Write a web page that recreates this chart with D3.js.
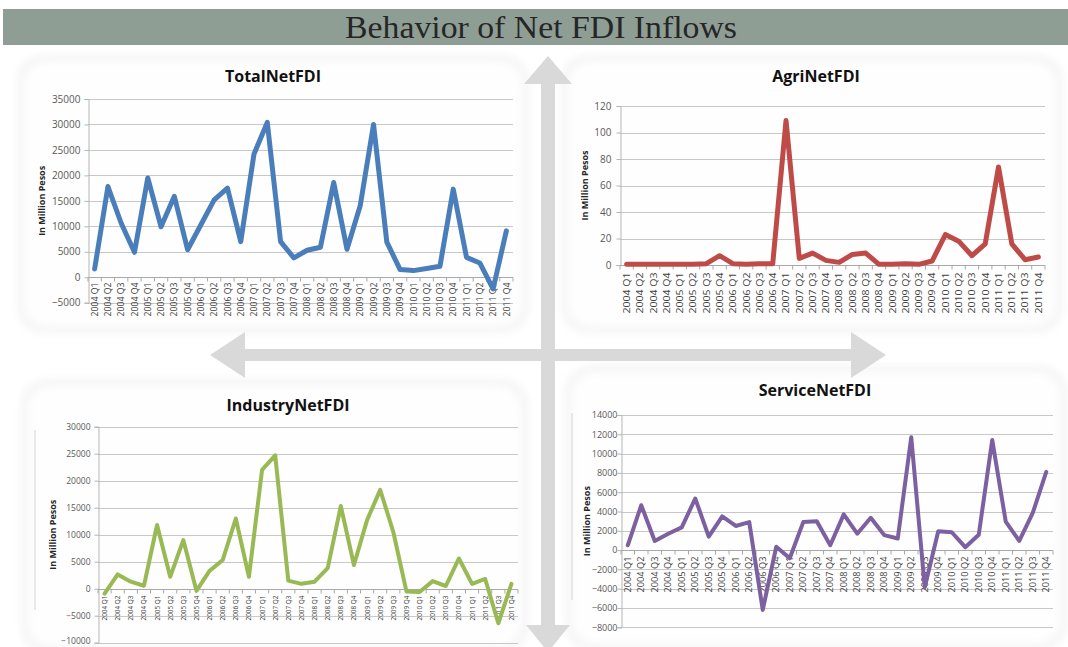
<!DOCTYPE html>
<html>
<head>
<meta charset="utf-8">
<script src="https://cdn.jsdelivr.net/npm/d3@7"></script>
<style>
  html, body { margin: 0; padding: 0; background: #ffffff; }
  svg { display: block; }
</style>
</head>
<body>
<svg id="chart" width="1068" height="647"></svg>
<script>
// Quarter labels shared by all four panels
const years = ["2004", "2005", "2006", "2007", "2008", "2009", "2010", "2011"];
const quarters = years.flatMap(y => ["Q1", "Q2", "Q3", "Q4"].map(q => `${y} ${q}`));

// Net FDI inflows, in million pesos
const totalNetFDI = [1630, 17800, 10600, 4900, 19500, 9900, 15900, 5400, 10300, 15200, 17500, 7000,
                     24200, 30400, 7000, 3800, 5300, 5900, 18600, 5500, 14100, 30000, 6900, 1500,
                     1300, 1700, 2150, 17300, 3900, 2800, -2300, 9100];
const agriNetFDI = [0.5, 0.5, 0.5, 0.5, 0.5, 0.5, 1, 7, 1, 0.5, 1, 1,
                    109, 5, 9, 3.5, 2, 8, 9, 0.5, 0.5, 1, 0.5, 3,
                    23, 18, 7, 16, 74, 16, 4, 6];
const industryNetFDI = [-900, 2650, 1300, 550, 11800, 2200, 9000, -400, 3300, 5300, 13000, 2200,
                        22000, 24700, 1500, 900, 1300, 3800, 15300, 4400, 12700, 18300, 10500, -500,
                        -600, 1400, 500, 5600, 900, 1800, -6400, 900];
const serviceNetFDI = [500, 4650, 950, 1700, 2350, 5350, 1400, 3500, 2500, 2900, -6200, 350,
                       -850, 2900, 3000, 500, 3700, 1700, 3350, 1550, 1200, 11700, -3850, 1950,
                       1850, 300, 1600, 11400, 2950, 950, 3850, 8100];

// Axis tick values per panel
const totalTicks = [-5000, 0, 5000, 10000, 15000, 20000, 25000, 30000, 35000];
const agriTicks = [0, 20, 40, 60, 80, 100, 120];
const industryTicks = [-10000, -5000, 0, 5000, 10000, 15000, 20000, 25000, 30000];
const serviceTicks = [-8000, -6000, -4000, -2000, 0, 2000, 4000, 6000, 8000, 10000, 12000, 14000];

const pageTitle = "Behavior of Net FDI Inflows";
const yAxisTitle = "In Million Pesos";

const svg = d3.select("#chart");

// soft edge for the panel cards
const defs = svg.append("defs");
const blur = defs.append("filter").attr("id", "soft").attr("x", "-10%").attr("y", "-10%")
  .attr("width", "120%").attr("height", "120%");
blur.append("feGaussianBlur").attr("stdDeviation", 5);

// header band
svg.append("rect").attr("x", 3).attr("y", 9).attr("width", 1065).attr("height", 36)
  .attr("fill", "#8f9e94");
svg.append("text").attr("x", 541).attr("y", 38).attr("text-anchor", "middle")
  .attr("font-family", "'Liberation Serif', 'DejaVu Serif', serif").attr("font-size", 32)
  .attr("textLength", 392).attr("lengthAdjust", "spacingAndGlyphs")
  .attr("fill", "#262626").text(pageTitle);

// panel cards
const cards = [
  { x: 18, y: 56, w: 510, h: 276 },
  { x: 562, y: 56, w: 500, h: 276 },
  { x: 22, y: 380, w: 505, h: 272 },
  { x: 566, y: 367, w: 500, h: 282 }
];
const cardG = svg.append("g");
cards.forEach(c => {
  cardG.append("rect").attr("x", c.x).attr("y", c.y).attr("width", c.w).attr("height", c.h)
    .attr("rx", 26).attr("fill", "#f1f1f1").attr("filter", "url(#soft)");
  cardG.append("rect").attr("x", c.x + 4).attr("y", c.y + 4).attr("width", c.w - 8).attr("height", c.h - 8)
    .attr("rx", 24).attr("fill", "#fefefe").attr("filter", "url(#soft)");
});

// cross of double-headed arrows
const arrowFill = "#d9d9d9";
const arrows = svg.append("g").attr("fill", arrowFill);
// vertical
arrows.append("path").attr("d", [
  "M548,56", "L572,84", "L555,84", "L555,625", "L570,625", "L548,652",
  "L526,625", "L541,625", "L541,84", "L524,84", "Z"].join(" "));
// horizontal
arrows.append("path").attr("d", [
  "M210,355", "L245,332", "L245,349", "L851,349", "L851,332", "L886,355",
  "L851,378", "L851,361", "L245,361", "L245,378", "Z"].join(" "));

// faint chart-area edges on the lower panels
svg.append("line").attr("x1", 35).attr("x2", 35).attr("y1", 430).attr("y2", 610)
  .attr("stroke", "#d4d4d4").attr("stroke-width", 1);
svg.append("line").attr("x1", 572).attr("x2", 572).attr("y1", 413).attr("y2", 600)
  .attr("stroke", "#d4d4d4").attr("stroke-width", 1);

const panels = [
  { title: "TotalNetFDI", values: totalNetFDI, ticks: totalTicks, color: "#4a7ebb",
    box: { x0: 88, x1: 513, y0: 99, y1: 302.7 }, titleX: 273, titleY: 82, titleSize: 16,
    yTitleX: 45, tickSize: 10, tickGap: 8, catSize: 9, catLen: 34, catGap: 5, lineW: 5 },
  { title: "AgriNetFDI", values: agriNetFDI, ticks: agriTicks, color: "#be4b48",
    box: { x0: 620, x1: 1045, y0: 106, y1: 265 }, titleX: 816, titleY: 82, titleSize: 16,
    yTitleX: 588, tickSize: 10, tickGap: 9, catSize: 9.5, catLen: 41, catGap: 7, lineW: 5 },
  { title: "IndustryNetFDI", values: industryNetFDI, ticks: industryTicks, color: "#98b954",
    box: { x0: 98, x1: 518, y0: 426.7, y1: 642.7 }, titleX: 288, titleY: 411, titleSize: 16,
    yTitleX: 56, tickSize: 8.5, tickGap: 8, catSize: 7, catLen: 25, catGap: 6, lineW: 4 },
  { title: "ServiceNetFDI", values: serviceNetFDI, ticks: serviceTicks, color: "#7d60a0",
    box: { x0: 621, x1: 1053, y0: 415, y1: 627.3 }, titleX: 815, titleY: 396, titleSize: 16,
    yTitleX: 590, tickSize: 9, tickGap: 4, catSize: 9, catLen: 36, catGap: 6, lineW: 4 }
];

const sans = "'Open Sans', 'Liberation Sans', sans-serif";

panels.forEach(p => {
  const g = svg.append("g");
  const b = p.box;
  const x = d3.scaleBand().domain(quarters).range([b.x0, b.x1]).padding(0);
  const ext = d3.extent(p.ticks);
  const y = d3.scaleLinear().domain(ext).range([b.y1, b.y0]);
  const cx = q => x(q) + x.bandwidth() / 2;

  // gridlines
  g.append("g").selectAll("line").data(p.ticks).join("line")
    .attr("x1", b.x0).attr("x2", b.x1)
    .attr("y1", d => Math.round(y(d)) + 0.5).attr("y2", d => Math.round(y(d)) + 0.5)
    .attr("stroke", "#c8c8c8").attr("stroke-width", 1);

  // value axis
  const yAxis = d3.axisLeft(y).tickValues(p.ticks).tickSize(4).tickPadding(p.tickGap - 4)
    .tickFormat(d3.format("d"));
  const ya = g.append("g").attr("transform", `translate(${b.x0 + 0.5},0)`).call(yAxis);
  ya.select(".domain").attr("stroke", "#b5b5b5");
  ya.selectAll(".tick line").attr("stroke", "#b5b5b5");
  ya.selectAll(".tick text").attr("font-family", sans).attr("font-size", p.tickSize)
    .attr("fill", "#595959")
    .attr("dy", d => (d === ext[0] && b.y1 > 640) ? "0.1em" : "0.32em");

  // category axis sitting on zero
  const y0 = Math.round(y(0)) + 0.5;
  const xa = g.append("g");
  xa.append("line").attr("x1", b.x0).attr("x2", b.x1).attr("y1", y0).attr("y2", y0)
    .attr("stroke", "#a8a8a8");
  xa.selectAll("line.tk").data(d3.range(quarters.length + 1)).join("line").attr("class", "tk")
    .attr("x1", i => b.x0 + i * x.step()).attr("x2", i => b.x0 + i * x.step())
    .attr("y1", y0).attr("y2", y0 + 4).attr("stroke", "#a8a8a8");
  xa.selectAll("text").data(quarters).join("text")
    .attr("transform", q => `translate(${cx(q)},${y0 + p.catGap}) rotate(-90)`)
    .attr("text-anchor", "end").attr("dy", "0.35em")
    .attr("font-family", sans).attr("font-size", p.catSize).attr("fill", "#404040")
    .attr("textLength", p.catLen).attr("lengthAdjust", "spacingAndGlyphs")
    .text(q => q);

  // series line
  const line = d3.line().x((d, i) => cx(quarters[i])).y(d => y(d));
  g.append("path").datum(p.values).attr("d", line)
    .attr("fill", "none").attr("stroke", p.color).attr("stroke-width", p.lineW)
    .attr("stroke-linejoin", "round").attr("stroke-linecap", "round");

  // titles
  g.append("text").attr("x", p.titleX).attr("y", p.titleY).attr("text-anchor", "middle")
    .attr("font-family", sans).attr("font-weight", 700).attr("font-size", p.titleSize)
    .attr("fill", "#111111").text(p.title);
  g.append("text")
    .attr("transform", `translate(${p.yTitleX},${(b.y0 + b.y1) / 2}) rotate(-90)`)
    .attr("text-anchor", "middle")
    .attr("font-family", sans).attr("font-weight", 700).attr("font-size", 9)
    .attr("fill", "#262626").text(yAxisTitle);
});
</script>
</body>
</html>
